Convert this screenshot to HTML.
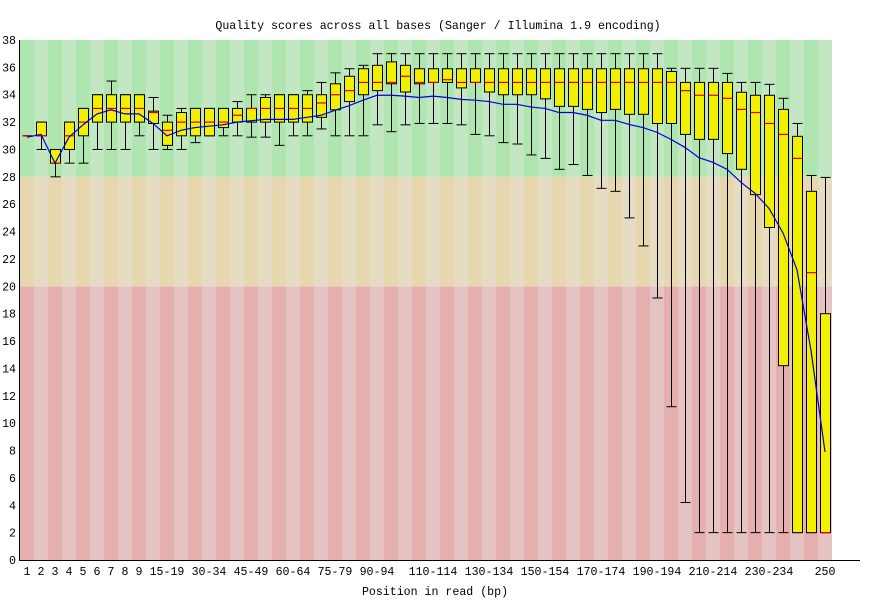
<!DOCTYPE html>
<html><head><meta charset="utf-8"><title>Quality scores across all bases</title>
<style>
html,body{margin:0;padding:0;background:#fff;}
svg{display:block;font-family:"Liberation Mono","DejaVu Sans Mono",monospace;}
</style></head>
<body>
<svg id="chart" width="870" height="600" viewBox="0 0 870 600">
<text x="438" y="29" font-size="11.6" text-anchor="middle" fill="#000">Quality scores across all bases (Sanger / Illumina 1.9 encoding)</text>
<g id="bands"></g>
<g id="yticks"></g>
<g id="xticks"></g>
<g id="boxes"></g>
<g id="meanline"></g>
<line x1="19.5" y1="40" x2="19.5" y2="560.5" stroke="#000"/>
<line x1="19" y1="560.5" x2="860" y2="560.5" stroke="#000"/>
<text x="435" y="595" font-size="11.6" text-anchor="middle">Position in read (bp)</text>
</svg>
<script>
var categories=["1","2","3","4","5","6","7","8","9","10-14","15-19","20-24","25-29","30-34","35-39","40-44","45-49","50-54","55-59","60-64","65-69","70-74","75-79","80-84","85-89","90-94","95-99","100-104","105-109","110-114","115-119","120-124","125-129","130-134","135-139","140-144","145-149","150-154","155-159","160-164","165-169","170-174","175-179","180-184","185-189","190-194","195-199","200-204","205-209","210-214","215-219","220-224","225-229","230-234","235-239","240-244","245-249","250"];
var lowerWhisker=[31,30,28,29,29,30,30,30,31,30,30,30,30.5,31,31,31,30.9,30.9,30.3,31,31,31.5,31,31,31,31.8,31.3,31.8,31.9,31.9,31.9,31.8,31.1,31,30.5,30.4,29.6,29.35,28.55,28.9,28.1,27.16,26.94,25,22.95,19.15,11.2,4.2,2,2,2,2,2,2,2,2,2,2];
var q1=[31,31,29,30,31,32,32,32,32,31.9,30.3,31,31,31,31.6,32,32,32,32,32,32,32.35,32.9,33.5,34,34.3,34.8,34.2,34.8,34.9,34.9,34.5,34.9,34.2,34,34,34,33.7,33.15,33.15,32.93,32.7,32.93,32.57,32.57,31.9,31.9,31.1,30.74,30.74,29.7,28.55,26.7,24.3,14.2,2,2,2];
var median=[31,31,29,31,32,33,33,33,33,32.7,31.4,32,32,32,32,32.5,33,33,33,33,33,33.4,34,34.3,34.9,34.9,34.9,35.35,34.9,34.9,35.1,34.9,34.9,34.9,34.9,34.9,34.9,34.9,34.9,34.9,34.9,34.9,34.9,34.9,34.9,34.9,34.9,34.3,33.96,33.96,33.74,32.93,32.7,31.9,31.1,29.35,21,2];
var q3=[31,32,30,32,33,34,34,34,34,32.8,32,32.7,33,33,33,33,33,33.8,34,34,34,34,34.8,35.35,35.9,36.15,36.4,36.15,35.9,35.9,35.9,35.9,35.9,35.9,35.9,35.9,35.9,35.9,35.9,35.9,35.9,35.9,35.9,35.9,35.9,35.9,35.7,34.9,34.9,34.9,34.9,34.18,33.96,33.96,32.93,30.96,26.94,18];
var upperWhisker=[31,32,30,32,33,34,35,34,34,33.8,32.5,33,33,33,33,33.5,34,34,34,34,34.3,34.9,35.6,35.9,36.15,37,37,37,37,37,37,37,37,37,37,37,37,37,37,37,37,37,37,37,37,37,35.93,35.93,35.93,35.93,35.56,34.9,34.9,34.76,33.74,31.9,28.1,27.96];
var meanValues=[30.9,31.1,29.0,30.9,31.8,32.6,32.9,32.6,32.6,31.9,31.0,31.4,31.6,31.7,31.8,32.0,32.1,32.2,32.2,32.2,32.35,32.5,32.86,33.2,33.6,33.96,33.96,33.9,33.8,33.9,33.8,33.66,33.6,33.5,33.3,33.3,33.1,33.0,32.7,32.7,32.5,32.13,32.13,31.83,31.6,31.25,30.74,30.15,29.4,29.06,28.55,27.6,26.8,25.7,23.9,21.2,15.3,7.9];
var yTickLabels=[0,2,4,6,8,10,12,14,16,18,20,22,24,26,28,30,32,34,36,38];
var xLabelCategories=["1","2","3","4","5","6","7","8","9","15-19","30-34","45-49","60-64","75-79","90-94","110-114","130-134","150-154","170-174","190-194","210-214","230-234","250"];
var bandLimits=[0,20,28,38];

var NS="http://www.w3.org/2000/svg";
var X0=20,BW=14,Y0=560,Y1=40,VMAX=38;
function yScale(v){return Y0-(v/VMAX)*(Y0-Y1);}
function xLeft(i){return X0+i*BW;}
function xCenter(i){return X0+i*BW+BW/2;}
function mk(tag,attrs,parent){var e=document.createElementNS(NS,tag);for(var k in attrs)e.setAttribute(k,attrs[k]);parent.appendChild(e);return e;}

var bands=document.getElementById('bands');
var bandColors=[["#e6afaf","#e6c3c3"],["#e6d7af","#e6dcc3"],["#afe6af","#c3e6c3"]];
var bandNames=['poor','reasonable','good'];
for(var b=0;b<3;b++){
  for(var i=0;i<categories.length;i++){
    var bandTop=yScale(bandLimits[b+1]),bandBot=yScale(bandLimits[b]);
    var r=mk('rect',{x:xLeft(i),y:bandTop,width:BW,height:bandBot-bandTop,fill:bandColors[b][i%2]},bands);
    
    
  }
}

var yt=document.getElementById('yticks');
yTickLabels.forEach(function(v){
  var t=mk('text',{x:16,y:yScale(v)+4,'font-size':'11.6','text-anchor':'end'},yt);
  t.textContent=v;
  
  
});

var xt=document.getElementById('xticks');
xLabelCategories.forEach(function(c){
  var i=categories.indexOf(c);
  var t=mk('text',{x:xCenter(i),y:575,'font-size':'11.6','text-anchor':'middle'},xt);
  t.textContent=c;
  
  
});

var boxes=document.getElementById('boxes');
for(var i=0;i<categories.length;i++){
  var g=mk('g',{},boxes);
  
  
  var cx=Math.round(xCenter(i))+0.5,l=cx-5,rr=cx+5;
  var yq1=yScale(q1[i]),yq3=yScale(q3[i]),ylw=yScale(lowerWhisker[i]),yuw=yScale(upperWhisker[i]),ym=yScale(median[i]);
  var w1=mk('line',{x1:cx,y1:yq1,x2:cx,y2:ylw,stroke:'#000'},g);
  
  
  var c1=mk('line',{x1:l,y1:ylw,x2:rr,y2:ylw,stroke:'#000'},g);
  
  
  var w2=mk('line',{x1:cx,y1:yq3,x2:cx,y2:yuw,stroke:'#000'},g);
  
  
  var c2=mk('line',{x1:l,y1:yuw,x2:rr,y2:yuw,stroke:'#000'},g);
  
  
  var bx=mk('rect',{x:l,y:yq3,width:rr-l,height:Math.max(0,yq1-yq3),fill:'#f0f000',stroke:'#000','stroke-width':1},g);
  
  
  var md=mk('line',{x1:l,y1:ym,x2:rr,y2:ym,stroke:'#e00000','stroke-width':1.2},g);
  
  
}

var ml=document.getElementById('meanline');
var pts=meanValues.map(function(v,i){return xCenter(i)+','+yScale(v);}).join(' ');
var pl=mk('polyline',{points:pts,fill:'none',stroke:'#0000e0','stroke-width':1.2},ml);


</script>
</body></html>
